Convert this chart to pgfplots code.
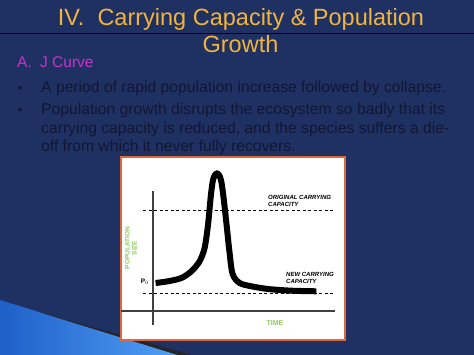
\documentclass[border=0pt]{standalone}
\usepackage{pgfplots}
\pgfplotsset{compat=1.18}
\usepackage{fontspec}
\setmainfont{Liberation Sans}
\definecolor{navy}{RGB}{31,49,99}
\definecolor{gold}{RGB}{242,180,60}
\definecolor{mag}{RGB}{200,50,200}
\definecolor{bodytxt}{RGB}{18,22,50}
\definecolor{boxorange}{RGB}{222,104,58}
\definecolor{lblgreen}{RGB}{140,205,90}
\definecolor{sw1}{RGB}{30,95,200}
\definecolor{sw2}{RGB}{80,160,245}
\begin{document}
\begin{tikzpicture}[x=1pt,y=1pt]
\fill[navy] (0,0) rectangle (474,355);
\useasboundingbox (0,0) rectangle (474,355);
% swoosh
\shade[left color=sw1, right color=sw2] (0,55) -- (0,0) -- (178,0) -- cycle;
\fill[black!85] (40,42.6) -- (192,0) -- (178,0) -- cycle;
% title
\node[anchor=base, inner sep=0pt, text=gold, font=\fontsize{23.5}{26}\selectfont] at (241,329) {IV.\ \ Carrying Capacity \& Population};
\node[anchor=base, inner sep=0pt, text=gold, font=\fontsize{23.5}{26}\selectfont] at (240.5,302) {Growth};
\draw[black, line width=1pt] (0,321) -- (474,321);
% subtitle and bullets
\node[anchor=base west, inner sep=0pt, text=mag, font=\fontsize{15.5}{18}\selectfont] at (17,287) {A.};
\node[anchor=base west, inner sep=0pt, text=mag, font=\fontsize{15.5}{18}\selectfont] at (40,287) {J Curve};
\node[anchor=base west, inner sep=0pt, text=bodytxt, font=\fontsize{13}{18}\selectfont] at (18,262.3) {•};
\node[anchor=base west, inner sep=0pt, text=bodytxt, font=\fontsize{15.7}{18}\selectfont] at (41,262.3) {A period of rapid population increase followed by collapse.};
\node[anchor=base west, inner sep=0pt, text=bodytxt, font=\fontsize{13}{18}\selectfont] at (18,240) {•};
\node[anchor=base west, inner sep=0pt, text=bodytxt, font=\fontsize{15.7}{18}\selectfont] at (41,240) {Population growth disrupts the ecosystem so badly that its};
\node[anchor=base west, inner sep=0pt, text=bodytxt, font=\fontsize{15.7}{18}\selectfont] at (41,221.5) {carrying capacity is reduced, and the species suffers a die-};
\node[anchor=base west, inner sep=0pt, text=bodytxt, font=\fontsize{15.7}{18}\selectfont] at (41,203.3) {off from which it never fully recovers.};
% box
\filldraw[fill=white, draw=boxorange, line width=2pt] (121,15) rectangle (345,198);
\begin{axis}[at={(121pt,25pt)}, anchor=south west, scale only axis,
  width=215pt, height=165pt, xmin=-1.6, xmax=9.15, ymin=-1.9, ymax=14.6,
  hide axis, clip=false]
\addplot[black!75, line width=1.4pt] coordinates {(-1.6,0) (9.1,0)};
\addplot[black!75, line width=1.4pt] coordinates {(0,12) (0,-1.4)};
\addplot[black, line width=1pt, dash pattern=on 3pt off 2.5pt] coordinates {(-0.5,10) (9.0,10)};
\addplot[black, line width=1pt, dash pattern=on 3pt off 2.5pt] coordinates {(-0.5,1.7) (9.0,1.7)};
\addplot[black, line width=6pt, smooth, tension=0.5] coordinates {
(0.13,2.8) (0.75,2.97) (1.42,3.3) (1.92,3.97) (2.33,4.97) (2.58,6.3) (2.75,8.6)
(2.88,11.3) (2.98,12.9) (3.08,13.55) (3.2,13.75) (3.32,13.55) (3.42,12.9) (3.53,11.3) (3.68,8.6) (3.82,5.97)
(3.98,3.7) (4.33,2.8) (4.92,2.47) (5.75,2.2) (6.92,2.03) (8.17,1.97)};
\node[anchor=west, align=left, inner sep=0pt, font=\fontsize{6}{7}\selectfont\bfseries\itshape] at (axis cs:5.75,11.05) {ORIGINAL CARRYING\\CAPACITY};
\node[anchor=west, align=left, inner sep=0pt, font=\fontsize{6}{7}\selectfont\bfseries\itshape] at (axis cs:6.65,3.3) {NEW CARRYING\\CAPACITY};
\node[inner sep=0pt, font=\fontsize{6.5}{7}\selectfont\bfseries] at (axis cs:-0.4,2.9) {P$_0$};
\node[rotate=90, align=center, inner sep=0pt, text=lblgreen, font=\fontsize{6.5}{7}\selectfont\bfseries] at (axis cs:-1.1,6.3) {POPULATION\\SIZE};
\node[inner sep=0pt, text=lblgreen, font=\fontsize{7}{8}\selectfont\bfseries] at (axis cs:6.1,-1.2) {TIME};
\end{axis}
\end{tikzpicture}
\end{document}
